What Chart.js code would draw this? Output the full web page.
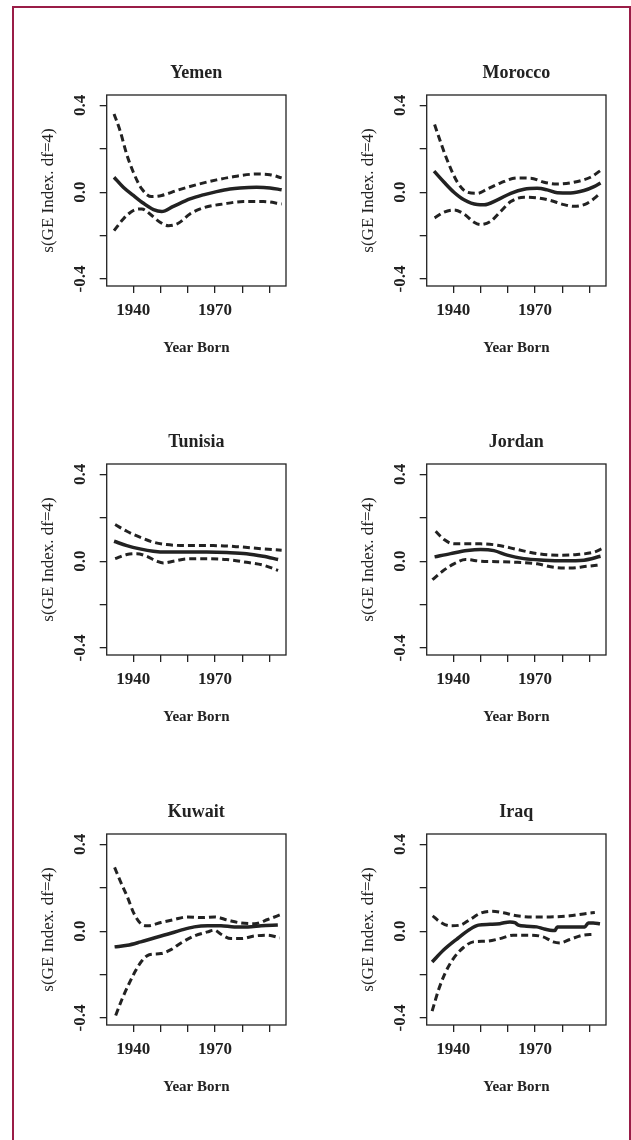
<!DOCTYPE html>
<html>
<head>
<meta charset="utf-8">
<script src="https://cdn.jsdelivr.net/npm/chart.js@4.4.1/dist/chart.umd.min.js"></script>
<style>
    html, body { margin: 0; padding: 0; background: #fff; width: 631px; height: 1140px; overflow: hidden; }
    #frame { position: absolute; left: 12px; top: 6px; width: 615px; height: 1200px; border: 2px solid #9a1d47; border-bottom: none; }
    .panel { position: absolute; width: 320px; height: 369px; }
</style>
</head>
<body>
<div id="frame"></div>
<div id="panels"></div>
<script>
// Year Born axis ticks / value axis ticks
const xTicks = [1940, 1950, 1960, 1970, 1980, 1990];
const xTickLabels = [1940, 1970];
const yTicks = [-0.4, -0.2, 0.0, 0.2, 0.4];
const yTickLabels = ['-0.4', '0.0', '0.4'];

// Yemen
const yemenFitYears = [1932.9, 1936.3, 1940, 1943.7, 1947.4, 1950.4, 1954.7, 1960.8, 1965.7, 1970.6, 1975.5, 1979.2, 1985.3, 1990.2, 1994.5];
const yemenFit = [0.069, 0.023, -0.015, -0.051, -0.080, -0.089, -0.065, -0.031, -0.012, 0.003, 0.015, 0.020, 0.023, 0.020, 0.011];
const yemenUpperYears = [1932.9, 1935.1, 1937.5, 1940, 1943.1, 1946.7, 1950.4, 1955.9, 1963.3, 1970.6, 1978, 1985.3, 1990.2, 1994.5];
const yemenUpper = [0.361, 0.284, 0.177, 0.092, 0.015, -0.020, -0.015, 0.008, 0.035, 0.057, 0.074, 0.084, 0.081, 0.066];
const yemenLowerYears = [1932.9, 1936.3, 1940, 1943.1, 1946.1, 1949.8, 1952.9, 1956.5, 1960.8, 1965.7, 1973.1, 1980.4, 1987.8, 1994.5];
const yemenLower = [-0.177, -0.123, -0.084, -0.077, -0.100, -0.138, -0.154, -0.143, -0.100, -0.072, -0.054, -0.043, -0.043, -0.054];

// Morocco
const moroccoFitYears = [1932.9, 1936.6, 1940.2, 1943.9, 1948.8, 1951.3, 1956.2, 1961.1, 1966.0, 1970.8, 1974.5, 1978.2, 1983.1, 1988.0, 1991.7, 1994.1];
const moroccoFit = [0.097, 0.046, 0.000, -0.035, -0.057, -0.058, -0.035, -0.005, 0.014, 0.018, 0.011, -0.002, -0.003, 0.008, 0.026, 0.043];
const moroccoUpperYears = [1933.1, 1935.3, 1937.8, 1941.5, 1945.1, 1948.8, 1952.5, 1957.4, 1963.5, 1968.4, 1973.3, 1978.2, 1984.3, 1990.4, 1994.1];
const moroccoUpper = [0.312, 0.231, 0.146, 0.046, 0.000, -0.005, 0.015, 0.043, 0.066, 0.065, 0.046, 0.038, 0.046, 0.069, 0.100];
const moroccoLowerYears = [1933.1, 1936.6, 1940.2, 1943.9, 1947.6, 1950.0, 1953.7, 1957.4, 1961.1, 1966.0, 1970.8, 1975.7, 1980.6, 1984.3, 1989.2, 1994.1];
const moroccoLower = [-0.118, -0.092, -0.082, -0.100, -0.138, -0.149, -0.134, -0.088, -0.043, -0.023, -0.026, -0.038, -0.057, -0.065, -0.051, -0.005];

// Tunisia
const tunisiaFitYears = [1932.9, 1937.6, 1942.4, 1947.3, 1952.2, 1959.6, 1966.9, 1974.3, 1981.6, 1987.7, 1993.2];
const tunisiaFit = [0.092, 0.072, 0.057, 0.046, 0.042, 0.042, 0.042, 0.040, 0.035, 0.023, 0.008];
const tunisiaUpperYears = [1933.3, 1937.6, 1942.4, 1947.3, 1952.2, 1959.6, 1969.4, 1979.2, 1987.7, 1994.5];
const tunisiaUpper = [0.169, 0.138, 0.111, 0.088, 0.077, 0.072, 0.072, 0.066, 0.057, 0.051];
const tunisiaLowerYears = [1933.3, 1937.6, 1941.2, 1944.9, 1948.6, 1951.0, 1954.7, 1959.6, 1966.9, 1974.3, 1981.6, 1987.7, 1993.2];
const tunisiaLower = [0.012, 0.031, 0.035, 0.023, 0.000, -0.008, 0.000, 0.011, 0.012, 0.008, -0.005, -0.018, -0.042];

// Jordan
const jordanFitYears = [1933.1, 1939.0, 1945.1, 1950.0, 1954.9, 1959.8, 1965.9, 1973.3, 1980.6, 1988.0, 1994.1];
const jordanFit = [0.020, 0.035, 0.049, 0.054, 0.049, 0.028, 0.012, 0.005, 0.002, 0.005, 0.023];
const jordanUpperYears = [1933.5, 1936.6, 1940.2, 1945.1, 1950.0, 1956.2, 1963.5, 1970.8, 1978.2, 1985.5, 1991.7, 1994.7];
const jordanUpper = [0.138, 0.100, 0.080, 0.080, 0.080, 0.074, 0.054, 0.035, 0.028, 0.031, 0.042, 0.058];
const jordanLowerYears = [1932.3, 1936.0, 1940.2, 1944.5, 1950.0, 1956.2, 1963.5, 1970.8, 1977.0, 1983.1, 1989.2, 1994.1];
const jordanLower = [-0.085, -0.046, -0.012, 0.008, 0.000, -0.002, -0.005, -0.012, -0.028, -0.031, -0.023, -0.017];

// Kuwait
const kuwaitFitYears = [1933.1, 1937.8, 1942.7, 1947.6, 1952.5, 1957.5, 1962.4, 1967.3, 1972.2, 1977.1, 1982.1, 1987.0, 1993.1];
const kuwaitFit = [-0.072, -0.065, -0.049, -0.031, -0.014, 0.005, 0.020, 0.025, 0.025, 0.020, 0.020, 0.025, 0.029];
const kuwaitUpperYears = [1933.1, 1935.3, 1937.8, 1940.2, 1942.7, 1945.2, 1950.1, 1955.0, 1959.9, 1964.8, 1969.8, 1974.7, 1979.6, 1984.5, 1989.4, 1994.4];
const kuwaitUpper = [0.294, 0.228, 0.158, 0.082, 0.035, 0.025, 0.040, 0.054, 0.066, 0.063, 0.066, 0.051, 0.038, 0.035, 0.054, 0.078];
const kuwaitLowerYears = [1933.5, 1935.9, 1938.4, 1940.9, 1943.3, 1945.8, 1950.1, 1953.8, 1957.5, 1962.4, 1967.3, 1969.8, 1972.2, 1975.9, 1979.6, 1984.5, 1989.4, 1993.8];
const kuwaitLower = [-0.388, -0.311, -0.242, -0.180, -0.134, -0.108, -0.103, -0.085, -0.054, -0.022, -0.003, 0.005, -0.014, -0.034, -0.034, -0.022, -0.018, -0.031];

// Iraq
const iraqFitYears = [1932.2, 1936.3, 1941.2, 1946.1, 1949.2, 1953.5, 1957.1, 1960.8, 1962.6, 1963.9, 1966.9, 1970.6, 1973.0, 1975.5, 1977.3, 1978.2, 1981.6, 1985.3, 1988.3, 1989.6, 1991.4, 1993.9];
const iraqFit = [-0.142, -0.088, -0.037, 0.009, 0.028, 0.032, 0.035, 0.043, 0.040, 0.028, 0.023, 0.020, 0.012, 0.005, 0.003, 0.020, 0.020, 0.020, 0.020, 0.038, 0.038, 0.034];
const iraqUpperYears = [1932.4, 1935.1, 1938.8, 1942.4, 1946.1, 1949.8, 1954.1, 1958.4, 1963.3, 1969.4, 1975.5, 1982.8, 1989.0, 1992.0];
const iraqUpper = [0.071, 0.043, 0.025, 0.028, 0.054, 0.082, 0.092, 0.085, 0.071, 0.066, 0.066, 0.071, 0.082, 0.086];
const iraqLowerYears = [1932.2, 1934.5, 1936.9, 1940.0, 1943.7, 1947.3, 1952.2, 1957.1, 1962.0, 1968.2, 1973.0, 1976.7, 1979.2, 1982.8, 1987.7, 1991.4];
const iraqLower = [-0.368, -0.272, -0.195, -0.126, -0.075, -0.049, -0.046, -0.034, -0.018, -0.018, -0.026, -0.049, -0.054, -0.038, -0.018, -0.015];

const panels = [
    { title: 'Yemen', fit: [yemenFitYears, yemenFit], upper: [yemenUpperYears, yemenUpper], lower: [yemenLowerYears, yemenLower] },
    { title: 'Morocco', fit: [moroccoFitYears, moroccoFit], upper: [moroccoUpperYears, moroccoUpper], lower: [moroccoLowerYears, moroccoLower] },
    { title: 'Tunisia', fit: [tunisiaFitYears, tunisiaFit], upper: [tunisiaUpperYears, tunisiaUpper], lower: [tunisiaLowerYears, tunisiaLower] },
    { title: 'Jordan', fit: [jordanFitYears, jordanFit], upper: [jordanUpperYears, jordanUpper], lower: [jordanLowerYears, jordanLower] },
    { title: 'Kuwait', fit: [kuwaitFitYears, kuwaitFit], upper: [kuwaitUpperYears, kuwaitUpper], lower: [kuwaitLowerYears, kuwaitLower] },
    { title: 'Iraq', fit: [iraqFitYears, iraqFit], upper: [iraqUpperYears, iraqUpper], lower: [iraqLowerYears, iraqLower] }
];

const ink = '#222';
const serif = 'Liberation Serif';

// R-style closed box round the plot region
const boxPlugin = {
    id: 'box',
    afterDraw(chart) {
        const { ctx, chartArea } = chart;
        ctx.save();
        ctx.strokeStyle = ink;
        ctx.lineWidth = 1.3;
        ctx.strokeRect(chartArea.left, chartArea.top, chartArea.right - chartArea.left, chartArea.bottom - chartArea.top);
        ctx.restore();
    }
};

function toPoints(pair) {
    return pair[0].map((x, i) => ({ x: x, y: pair[1][i] }));
}

function isTick(list, v) {
    return list.some(t => Math.abs(t - v) < 1e-6);
}

const container = document.getElementById('panels');

panels.forEach((panel, index) => {
    const col = index % 2;
    const row = Math.floor(index / 2);
    const div = document.createElement('div');
    div.className = 'panel';
    div.style.left = (col * 320) + 'px';
    div.style.top = Math.round(row * 369.3) + 'px';
    div.innerHTML = `<canvas id="chart-${index}" width="320" height="369"></canvas>`;
    container.appendChild(div);

    const ctx = document.getElementById(`chart-${index}`).getContext('2d');

    new Chart(ctx, {
        type: 'line',
        data: {
            datasets: [
                { data: toPoints(panel.fit), borderColor: ink, borderWidth: 3.5 },
                { data: toPoints(panel.upper), borderColor: ink, borderWidth: 3, borderDash: [7, 4] },
                { data: toPoints(panel.lower), borderColor: ink, borderWidth: 3, borderDash: [7, 4] }
            ]
        },
        options: {
            responsive: false,
            animation: false,
            events: [],
            layout: { padding: { left: 0, right: 34, top: 0, bottom: 3 } },
            elements: {
                point: { radius: 0 },
                line: { cubicInterpolationMode: 'monotone', fill: false }
            },
            plugins: {
                legend: { display: false },
                tooltip: { enabled: false },
                title: {
                    display: true,
                    text: panel.title,
                    fullSize: false,
                    color: ink,
                    font: { family: serif, size: 18, weight: 'bold' },
                    padding: { top: 62.7, bottom: 10.7 }
                }
            },
            scales: {
                x: {
                    type: 'linear',
                    min: 1930.2,
                    max: 1996.1,
                    afterFit: s => { s.height = 80; },
                    border: { display: false },
                    grid: { drawOnChartArea: false, drawTicks: true, tickLength: 7, color: ink, lineWidth: 1.3 },
                    afterBuildTicks: s => { s.ticks = xTicks.map(v => ({ value: v })); },
                    ticks: {
                        autoSkip: false,
                        maxRotation: 0,
                        padding: 7.3,
                        color: ink,
                        font: { family: serif, size: 17, weight: 'bold' },
                        callback: v => (xTickLabels.includes(v) ? String(v) : '')
                    },
                    title: {
                        display: true,
                        text: 'Year Born',
                        color: ink,
                        font: { family: serif, size: 15, weight: 'bold' },
                        padding: { top: 0, bottom: 8.5 }
                    }
                },
                y: {
                    type: 'linear',
                    min: -0.432,
                    max: 0.448,
                    afterFit: s => { s.width = 106.7; },
                    border: { display: false },
                    grid: { drawOnChartArea: false, drawTicks: true, tickLength: 7, color: ink, lineWidth: 1.3 },
                    afterBuildTicks: s => { s.ticks = yTicks.map(v => ({ value: v })); },
                    ticks: {
                        autoSkip: false,
                        minRotation: 90,
                        maxRotation: 90,
                        crossAlign: 'center',
                        padding: 5.8,
                        color: ink,
                        font: { family: serif, size: 17, weight: 'bold' },
                        callback: v => {
                            const label = (Math.round(v * 10) / 10).toFixed(1);
                            return yTickLabels.includes(label) ? label : '';
                        }
                    },
                    title: {
                        display: true,
                        text: 's(GE Index. df=4)',
                        color: ink,
                        font: { family: serif, size: 17, weight: 'normal' },
                        padding: { top: 38.3, bottom: 0 }
                    }
                }
            }
        },
        plugins: [boxPlugin]
    });
});
</script>
</body>
</html>
